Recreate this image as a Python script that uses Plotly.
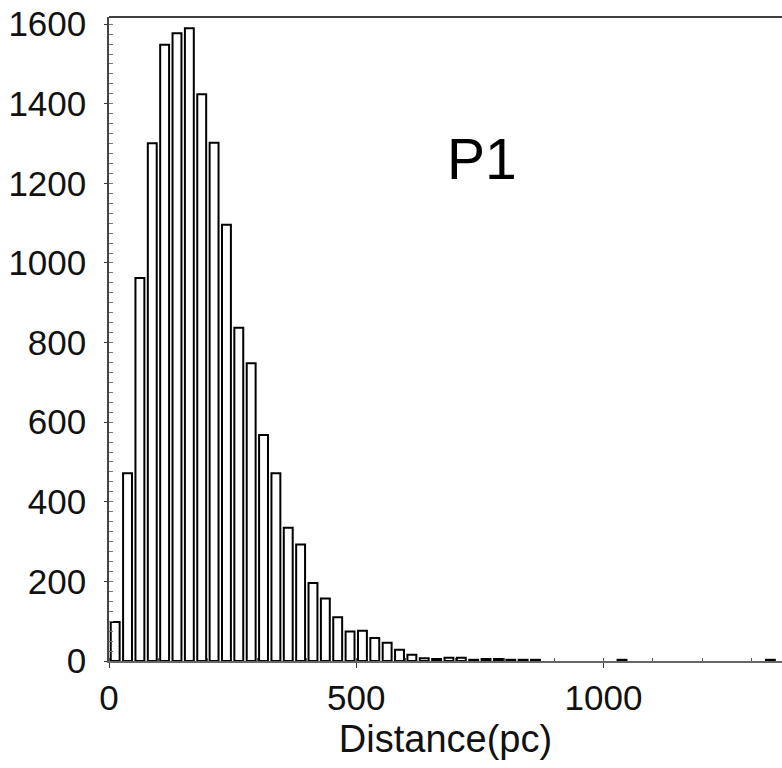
import plotly.graph_objects as go

# ---- data ----
bin_width = 25  # pc
bin_left = list(range(0, 1350, 25))  # left edges of the histogram bins, 0 .. 1325
counts = [
    98, 472, 962, 1301, 1548, 1577, 1590, 1424, 1302, 1096,   # 0 - 250
    837, 748, 568, 472, 335, 293, 196, 157, 110, 74,          # 250 - 500
    76, 58, 46, 28, 16, 7, 5, 8, 8, 3,                        # 500 - 750
    5, 5, 3, 3, 3, 0, 0, 0, 0, 0,                             # 750 - 1000
    0, 3, 0, 0, 0, 0, 0, 0, 0, 0,                             # 1000 - 1250
    0, 0, 0, 3,                                               # 1250 - 1350
]
x_ticks = [0, 500, 1000]
y_ticks = [0, 200, 400, 600, 800, 1000, 1200, 1400, 1600]
panel_label = "P1"
x_title = "Distance(pc)"

centers = [b + bin_width / 2 for b in bin_left]
heights = [c if c > 0 else None for c in counts]

TICK_FONT = "Liberation Sans, Arial, sans-serif"

fig = go.Figure()
fig.add_trace(go.Bar(
    x=centers,
    y=heights,
    width=[bin_width * 0.72] * len(centers),
    marker=dict(color="white", line=dict(color="black", width=2)),
    showlegend=False,
))

fig.add_annotation(
    x=755, y=1262, xref="x", yref="y",
    text=panel_label, showarrow=False,
    font=dict(family="Liberation Sans, Arial, sans-serif", size=57, color="black"),
    xanchor="center", yanchor="middle",
)

# top frame line (black)
fig.add_shape(type="line", xref="paper", yref="paper", x0=0, x1=1, y0=1, y1=1,
              line=dict(color="black", width=1.5))

fig.update_layout(
    width=782, height=768,
    margin=dict(l=109, r=0, t=17, b=107, autoexpand=False),
    paper_bgcolor="white", plot_bgcolor="white",
    bargap=0.28,
    xaxis=dict(
        range=[0, 1361],
        tickmode="array", tickvals=x_ticks, ticktext=[str(v) for v in x_ticks],
        ticks="outside", ticklen=5, tickwidth=1.2, tickcolor="#333",
        minor=dict(dtick=100, ticks="inside", ticklen=3, tickcolor="#555"),
        showline=True, linecolor="#666", linewidth=1.5,
        showgrid=False, zeroline=False,
        tickfont=dict(family=TICK_FONT, size=35, color="#111"),
        ticklabelstandoff=0,
        title=dict(text=x_title, standoff=10,
                   font=dict(family="Liberation Sans, Arial, sans-serif", size=38, color="#111")),
    ),
    yaxis=dict(
        range=[0, 1618],
        tickmode="array", tickvals=y_ticks, ticktext=[str(v) for v in y_ticks],
        ticks="outside", ticklen=3, tickwidth=1.2, tickcolor="#333",
        minor=dict(dtick=25, ticks="inside", ticklen=4, tickcolor="#777"),
        showline=True, linecolor="#444", linewidth=1.5,
        showgrid=False, zeroline=False,
        tickfont=dict(family=TICK_FONT, size=35, color="#111"),
        ticklabelstandoff=11,
    ),
)

fig.write_html("out.html")
